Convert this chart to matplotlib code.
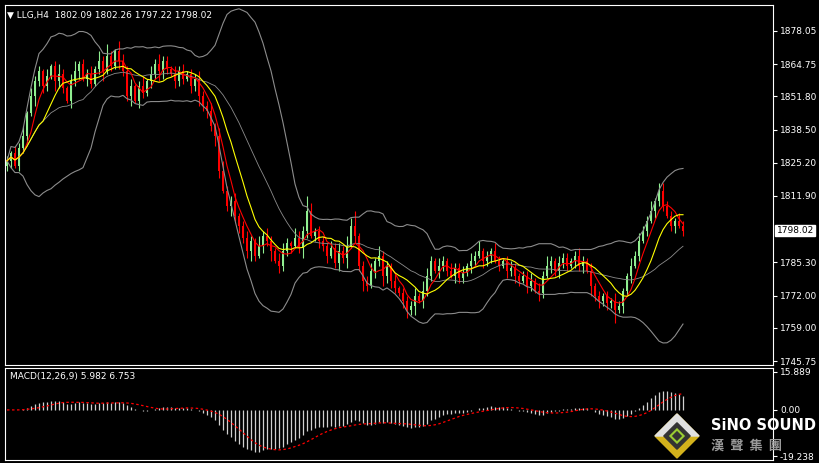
import numpy as np
import pandas as pd
import matplotlib
matplotlib.use("Agg")
import matplotlib.pyplot as plt
from matplotlib.patches import Polygon

plt.rcParams['font.family'] = ['DejaVu Sans', 'Noto Sans CJK SC']

# ------------------------
# Data (H4 closes)
# ------------------------
closes = [
    1826, 1829, 1824, 1831, 1836, 1845, 1852, 1858, 1862, 1856,
    1860, 1864, 1858, 1861, 1855, 1850, 1858, 1862, 1865, 1859,
    1861, 1857, 1863, 1866, 1862, 1868, 1864, 1870, 1866, 1862,
    1852, 1856, 1850, 1856, 1853, 1858, 1861, 1865, 1862, 1866,
    1863, 1861, 1858, 1862, 1859, 1861, 1856, 1859, 1852, 1848,
    1846, 1840, 1836, 1822, 1814, 1808, 1810, 1804, 1800, 1795,
    1790, 1794, 1788, 1792, 1796, 1794, 1790, 1786, 1784, 1790,
    1793, 1792, 1795, 1791, 1798, 1806, 1796, 1798, 1794, 1792,
    1788, 1791, 1785, 1790, 1787, 1792, 1800, 1796, 1784, 1778,
    1776, 1782, 1786, 1788, 1780, 1784, 1778, 1775, 1773, 1770,
    1766, 1768, 1772, 1770, 1774, 1780, 1786, 1782, 1784, 1786,
    1782, 1780, 1783, 1779, 1781, 1784, 1786, 1788, 1790, 1786,
    1788, 1790, 1786, 1784, 1786, 1782, 1783, 1780, 1778, 1780,
    1776, 1778, 1774, 1773, 1780, 1784, 1786, 1782, 1785, 1787,
    1784, 1786, 1788, 1784, 1786, 1782, 1776, 1772, 1770, 1772,
    1769, 1770, 1766, 1768, 1774, 1780, 1784, 1788, 1794, 1798,
    1802, 1806, 1810, 1814, 1808, 1804, 1800, 1802, 1800, 1798.02,
]
# wick lengths (price units), one digit per candle
upper_wicks = ("2132413221" "3124213412" "2314252143" "2312413242" "2132312232"
               "2313422312" "3214232133" "2143263122" "1323243612" "2314221312"
               "2231432132" "1322313241" "2132123212" "2313242132" "2123213121"
               "2132113232" "2413322132")
lower_wicks = ("2312231423" "2143213231" "3212412132" "2413213243" "2132213242"
               "3243124232" "3421324132" "2312431232" "3123241324" "2132433213"
               "3241322132" "2132213213" "2312132321" "3213213232" "2132314232"
               "3251323121" "2132212312")

price_ticks = [1878.05, 1864.75, 1851.80, 1838.50, 1825.20, 1811.90,
               1785.30, 1772.00, 1759.00, 1745.75]
macd_ticks = [15.889, 0.00, -19.238]
header = "LLG,H4  1802.09 1802.26 1797.22 1798.02"

# ------------------------
# Derived series
# ------------------------
c = pd.Series(closes, dtype=float)
o = c.shift(1).fillna(c.iloc[0] - 2)
hi = np.maximum(o, c) + np.array([int(d) for d in upper_wicks])
lo = np.minimum(o, c) - np.array([int(d) for d in lower_wicks])
mid = c.rolling(20, min_periods=1).mean()
sd = c.rolling(20, min_periods=2).std().fillna(0)
ma_fast = c.rolling(5, min_periods=1).mean()
ma_slow = c.rolling(10, min_periods=1).mean()
ema12 = c.ewm(span=12).mean()
ema26 = c.ewm(span=26).mean()
macd = ema12 - ema26
signal = macd.rolling(9, min_periods=1).mean()
x = np.arange(len(c))

# ------------------------
# Figure
# ------------------------
fig = plt.figure(figsize=(8.19, 4.63), dpi=100, facecolor='black')
ax = fig.add_axes([5 / 819, 98 / 463, 768 / 819, 360 / 463], facecolor='black')
ax2 = fig.add_axes([5 / 819, 3 / 463, 768 / 819, 92 / 463], facecolor='black')

for i in x:
    col = '#ff0000' if c[i] < o[i] else '#90ee90'
    ax.vlines(i, lo[i], hi[i], color=col, lw=0.8)
    ax.bar(i, abs(c[i] - o[i]) or 0.3, bottom=min(o[i], c[i]), width=0.6, color=col, lw=0)

ax.plot(x, mid + 2 * sd, color='#8c8c8c', lw=0.8)
ax.plot(x, mid - 2 * sd, color='#8c8c8c', lw=0.8)
ax.plot(x, mid, color='#8c8c8c', lw=0.6)
ax.plot(x, ma_fast, color='red', lw=0.8)
ax.plot(x, ma_slow, color='yellow', lw=0.8)

ax.set_xlim(-0.5, 191.5)
ylo, yhi = 1745.75 - 4 * 0.4009, 1878.05 + 26 * 0.4009
ax.set_ylim(ylo, yhi)
ax.set_yticks(price_ticks)
ax.yaxis.tick_right()
ax.tick_params(axis='y', colors='white', labelsize=6.5, length=3, pad=2)
ax.set_yticklabels([f"{t:.2f}" for t in price_ticks])
ax.set_xticks([])
ax.text(0.003, 0.985, "\u25bc " + header, transform=ax.transAxes, color='white',
        fontsize=6.5, va='top')
ax.text(1.005, (c.iloc[-1] - ylo) / (yhi - ylo),
        f"{c.iloc[-1]:.2f}", transform=ax.transAxes, fontsize=6.5, color='black',
        va='center', bbox=dict(facecolor='white', edgecolor='white', pad=1))

ax2.vlines(x, 0, macd, color='#d0d0d0', lw=0.9)
ax2.plot(x, signal, color='red', lw=0.9, ls=(0, (2, 2)))
ax2.set_xlim(-0.5, 191.5)
ax2.set_ylim(-19.238 - 1.5, 15.889 + 1.5)
ax2.set_yticks(macd_ticks)
ax2.yaxis.tick_right()
ax2.tick_params(axis='y', colors='white', labelsize=6.5, length=3, pad=2)
ax2.set_yticklabels(["15.889", "0.00", "-19.238"])
ax2.set_xticks([])
ax2.text(0.006, 0.96, f"MACD(12,26,9) {macd.iloc[-1]:.3f} {signal.iloc[-1]:.3f}",
         transform=ax2.transAxes, color='white', fontsize=6.5, va='top')

for a in (ax, ax2):
    for s in a.spines.values():
        s.set_color('white')

# logo
fig_ax = fig.add_axes([0, 0, 1, 1], facecolor='none')
fig_ax.set_xlim(0, 819)
fig_ax.set_ylim(463, 0)
fig_ax.axis('off')
cx, cy, r = 677, 436, 22
fig_ax.add_patch(Polygon([(cx, cy - r), (cx + r, cy), (cx, cy + r), (cx - r, cy)],
                         closed=True, color='#d4b21c'))
fig_ax.add_patch(Polygon([(cx, cy - r), (cx + r, cy), (cx, cy), (cx - r, cy)],
                         closed=True, color='#e0e0e0'))
k = r * 0.6
fig_ax.add_patch(Polygon([(cx, cy - k), (cx + k, cy), (cx, cy + k), (cx - k, cy)],
                         closed=True, color='#333333'))
k = r * 0.3
fig_ax.add_patch(Polygon([(cx, cy - k), (cx + k, cy), (cx, cy + k), (cx - k, cy)],
                         closed=True, facecolor='none', edgecolor='#9acd32', lw=1.5))
fig_ax.text(711, 426, "SiNO SOUND", color='white', fontsize=10.5, fontweight='bold', va='center')
fig_ax.text(711, 446, "漢  聲  集  團", color='#9a9a9a', fontsize=9.5, fontweight='bold',
            va='center', family=['Noto Sans CJK TC', 'DejaVu Sans'])

fig.savefig("out.png", dpi=100, facecolor='black')
